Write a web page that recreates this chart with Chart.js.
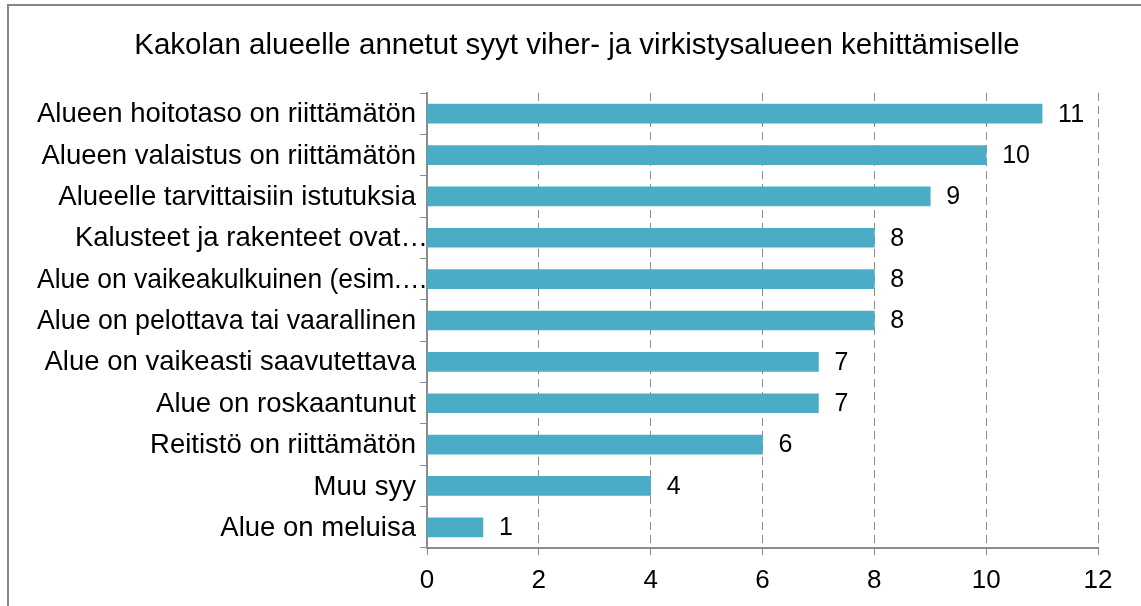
<!DOCTYPE html>
<html>
<head>
<meta charset="utf-8">
<script src="https://cdn.jsdelivr.net/npm/chart.js@4/dist/chart.umd.min.js"></script>
<style>
  html, body { margin: 0; padding: 0; background: #ffffff; }
  #wrap { position: relative; width: 1141px; height: 606px; }
</style>
</head>
<body>
<div id="wrap"><canvas id="chart" width="1141" height="606"></canvas></div>
<script>
// Reasons given for developing the Kakola green and recreation area
const chartTitle = 'Kakolan alueelle annetut syyt viher- ja virkistysalueen kehittämiselle';
const categories = [
  'Alueen hoitotaso on riittämätön',
  'Alueen valaistus on riittämätön',
  'Alueelle tarvittaisiin istutuksia',
  'Kalusteet ja rakenteet ovat…',
  'Alue on vaikeakulkuinen (esim.…',
  'Alue on pelottava tai vaarallinen',
  'Alue on vaikeasti saavutettava',
  'Alue on roskaantunut',
  'Reitistö on riittämätön',
  'Muu syy',
  'Alue on meluisa'
];
const counts = [11, 10, 9, 8, 8, 8, 7, 7, 6, 4, 1];
const xTicks = [0, 2, 4, 6, 8, 10, 12];

const FONT = '"Liberation Sans", Arial, sans-serif';
const GRAY = '#8c8c8c';

// Frame and title
const framePlugin = {
  id: 'frame',
  beforeDraw(chart) {
    const ctx = chart.ctx;
    ctx.save();
    ctx.fillStyle = '#ffffff';
    ctx.fillRect(0, 0, chart.width, chart.height);
    ctx.strokeStyle = '#878787';
    ctx.lineWidth = 2;
    ctx.beginPath();
    ctx.moveTo(8, chart.height + 5);
    ctx.lineTo(8, 5);
    ctx.lineTo(chart.width + 5, 5);
    ctx.stroke();
    ctx.fillStyle = '#000000';
    ctx.font = '29.5px ' + FONT;
    ctx.textAlign = 'center';
    ctx.textBaseline = 'middle';
    ctx.fillText(chartTitle, 577, 46);
    ctx.restore();
  }
};

// Category labels; truncated ones run right up to the axis line
const categoryLabels = {
  id: 'categoryLabels',
  afterDraw(chart) {
    const ctx = chart.ctx;
    const y = chart.scales.y;
    ctx.save();
    ctx.fillStyle = '#000000';
    ctx.font = '27.5px ' + FONT;
    ctx.textAlign = 'right';
    ctx.textBaseline = 'middle';
    categories.forEach((label, i) => {
      const truncated = label.endsWith('…');
      const right = truncated ? y.right + 1 : y.right - 11;
      ctx.fillText(label, right, y.getPixelForTick(i) + 1, right - 37);
    });
    ctx.restore();
  }
};

// Value labels at the end of each bar
const valueLabels = {
  id: 'valueLabels',
  afterDatasetsDraw(chart) {
    const ctx = chart.ctx;
    const meta = chart.getDatasetMeta(0);
    ctx.save();
    ctx.fillStyle = '#000000';
    ctx.font = '25px ' + FONT;
    ctx.textAlign = 'left';
    ctx.textBaseline = 'middle';
    meta.data.forEach((bar, i) => {
      ctx.fillText(String(counts[i]), bar.x + 16, bar.y + 1);
    });
    ctx.restore();
  }
};

new Chart(document.getElementById('chart'), {
  type: 'bar',
  data: {
    labels: categories,
    datasets: [{
      data: counts,
      backgroundColor: '#4bacc6',
      borderWidth: 0,
      barThickness: 19
    }]
  },
  options: {
    indexAxis: 'y',
    responsive: false,
    animation: false,
    devicePixelRatio: 1,
    layout: { padding: { top: 93, right: 43, left: 0, bottom: 0 } },
    plugins: {
      legend: { display: false },
      title: { display: false },
      tooltip: { enabled: false }
    },
    scales: {
      x: {
        min: 0,
        max: 12,
        afterBuildTicks(scale) { scale.ticks = xTicks.map(v => ({ value: v })); },
        afterFit(scale) { scale.height = 58; },
        grid: {
          color: GRAY,
          lineWidth: 1,
          drawTicks: true,
          tickLength: 7,
          tickBorderDash: []
        },
        border: { display: true, color: GRAY, width: 2, dash: [8, 5] },
        ticks: {
          color: '#000000',
          font: { family: FONT, size: 26 },
          padding: 10
        }
      },
      y: {
        afterFit(scale) { scale.width = 427; },
        grid: {
          color: GRAY,
          drawOnChartArea: false,
          drawTicks: true,
          tickLength: 7
        },
        border: { display: true, color: GRAY, width: 2 },
        ticks: {
          display: false,
          autoSkip: false
        }
      }
    }
  },
  plugins: [framePlugin, categoryLabels, valueLabels]
});
</script>
</body>
</html>
